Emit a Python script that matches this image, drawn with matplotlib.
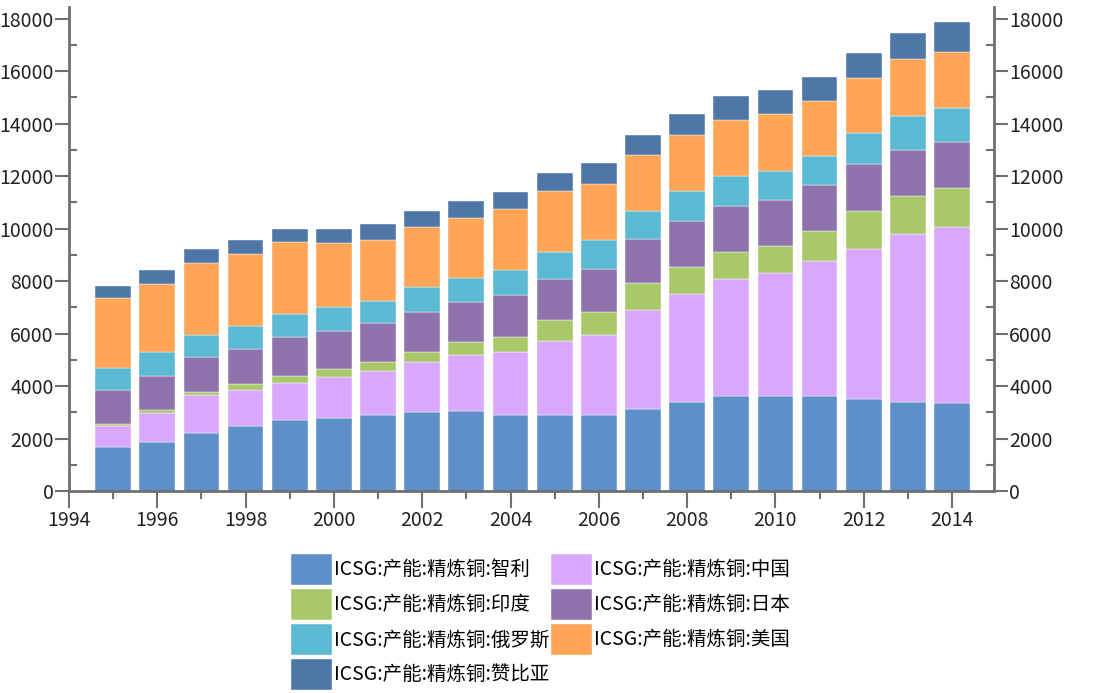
import matplotlib
matplotlib.use("Agg")
import matplotlib.pyplot as plt
import numpy as np
from matplotlib.ticker import MultipleLocator

plt.rcParams['font.family'] = ['Noto Sans CJK SC', 'DejaVu Sans']

years = list(range(1995, 2015))

# values (stack order bottom -> top)
chile = [1690, 1850, 2200, 2490, 2710, 2770, 2880, 3000, 3050, 2880,
         2880, 2880, 3110, 3390, 3620, 3620, 3620, 3510, 3390, 3340]
china = [800, 1140, 1470, 1350, 1410, 1580, 1690, 1920, 2150, 2430,
         2840, 3050, 3790, 4130, 4460, 4690, 5150, 5710, 6390, 6720]
india = [60, 110, 110, 230, 280, 290, 340, 390, 460, 560,
         780, 900, 1020, 1020, 1020, 1020, 1130, 1470, 1470, 1480]
japan = [1300, 1300, 1310, 1360, 1470, 1460, 1480, 1530, 1530, 1590,
         1590, 1650, 1690, 1750, 1750, 1750, 1750, 1770, 1750, 1750]
russia = [840, 900, 840, 850, 860, 900, 840, 920, 920, 970,
          1020, 1080, 1080, 1130, 1140, 1130, 1130, 1180, 1300, 1310]
usa = [2660, 2590, 2770, 2770, 2770, 2440, 2330, 2310, 2310, 2310,
       2310, 2140, 2100, 2150, 2150, 2160, 2100, 2090, 2150, 2150]
zambia = [460, 520, 510, 510, 500, 560, 610, 620, 620, 670,
          690, 790, 790, 800, 900, 900, 900, 970, 1020, 1130]

prefix = "ICSG:产能:精炼铜:"
names = ["智利", "中国", "印度", "日本", "俄罗斯", "美国", "赞比亚"]
colors = ["#5E8FC8", "#D9A8FC", "#A9C86A", "#8E73AD", "#5AB9D3", "#FFA555", "#4E77A8"]
series = [chile, china, india, japan, russia, usa, zambia]

fig = plt.figure(figsize=(11.02, 6.93), dpi=100)
ax = fig.add_axes([0.0626, 0.2915, 0.8394, 0.6985])

bottom = np.zeros(len(years))
handles = {}
for name, vals, col in zip(names, series, colors):
    h = ax.bar(years, vals, width=0.81, bottom=bottom, color=col,
               edgecolor="#ffffff", linewidth=0.3)
    handles[name] = h
    bottom += np.array(vals)

ax.set_xlim(1994, 2014.95)
ax.set_ylim(0, 18450)

ax.xaxis.set_major_locator(MultipleLocator(2))
ax.xaxis.set_minor_locator(MultipleLocator(1))
ax.yaxis.set_major_locator(MultipleLocator(2000))
ax.yaxis.set_minor_locator(MultipleLocator(1000))

axis_col = "#707070"
for side in ["left", "right", "bottom"]:
    ax.spines[side].set_color(axis_col)
    ax.spines[side].set_linewidth(2)
ax.spines["top"].set_visible(False)

ax.tick_params(axis="y", which="major", direction="out", length=10, width=1.5,
               color=axis_col, left=True, right=True, labelleft=True,
               labelright=True, labelsize=14, labelcolor="#222222", pad=1)
ax.tick_params(axis="y", which="minor", direction="in", length=6, width=1.5,
               color=axis_col, left=True, right=True)
ax.tick_params(axis="x", which="major", direction="out", length=12, width=1.5,
               color=axis_col, labelsize=14, labelcolor="#222222", pad=2)
ax.tick_params(axis="x", which="minor", direction="out", length=6, width=1.5,
               color=axis_col)

legend_order = ["智利", "印度", "俄罗斯", "赞比亚", "中国", "日本", "美国"]
leg = fig.legend([handles[n] for n in legend_order],
                 [prefix + n for n in legend_order],
                 ncol=2, loc="upper left", bbox_to_anchor=(0.255, 0.215),
                 frameon=False, fontsize=14, handlelength=2.1,
                 handleheight=2.08, handletextpad=0.1, labelspacing=0.2,
                 columnspacing=0.1, borderpad=0)

fig.savefig("out.png", dpi=100)
